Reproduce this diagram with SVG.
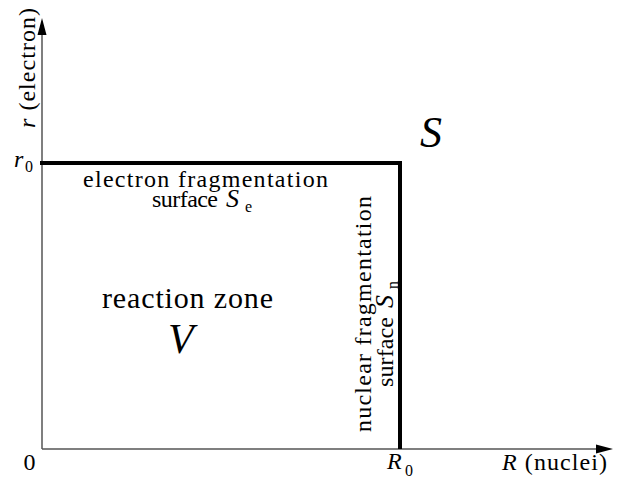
<svg xmlns="http://www.w3.org/2000/svg" width="617" height="481" viewBox="0 0 617 481">
<style>
text{font-family:"Liberation Serif","Times New Roman",serif;fill:#000}
.it{font-style:italic}
.axis{stroke:#555;stroke-width:1.5;fill:none}
.bound{stroke:#000;stroke-width:4;fill:none}
.big{font-size:24px}
.sub{font-size:16px}
</style>
<rect width="617" height="481" fill="#fff"/>
<g id="axes">
<line class="axis" x1="42" y1="449" x2="42" y2="34"/>
<line class="axis" x1="42" y1="449" x2="598" y2="449"/>
<polygon points="42,18 37.5,35 46.5,35" fill="#000"/>
<polygon points="613,449 596,444.5 596,453.5" fill="#000"/>
</g>
<g id="boundary">
<polyline class="bound" points="40,163 400,163 400,449"/>
</g>
<g id="axis-labels">
<text x="29.5" y="470" text-anchor="middle" font-size="24">0</text>
<g transform="translate(35,128) rotate(-90)">
<text class="big" x="0" y="0" textLength="120" lengthAdjust="spacing"><tspan class="it">r</tspan> (electron)</text>
</g>
<text class="it" x="14" y="167" font-size="24">r</text>
<text class="sub" x="25" y="172">0</text>
<text class="it" x="387" y="469" font-size="24">R</text>
<text class="sub" x="405" y="476">0</text>
<text class="big" x="502" y="470" textLength="105" lengthAdjust="spacing"><tspan class="it">R</tspan> (nuclei)</text>
</g>
<g id="label-S">
<text class="it" x="420" y="147" font-size="44">S</text>
</g>
<g id="electron-surface">
<text class="big" x="83" y="187" textLength="245" lengthAdjust="spacing">electron fragmentation</text>
<text class="big" x="152" y="207" textLength="66" lengthAdjust="spacing">surface</text>
<text class="it" x="226" y="207" font-size="26">S</text>
<text class="sub" x="245" y="212">e</text>
</g>
<g id="reaction-zone">
<text x="102" y="308" font-size="30" textLength="171" lengthAdjust="spacing">reaction zone</text>
<text class="it" x="168" y="353" font-size="42">V</text>
</g>
<g id="nuclear-surface" transform="translate(371,432) rotate(-90)">
<text class="big" x="0" y="0" textLength="236" lengthAdjust="spacing">nuclear fragmentation</text>
<g transform="translate(45,22)">
<text class="big" x="0" y="0" textLength="70" lengthAdjust="spacing">surface</text>
<text class="it" x="79" y="0" font-size="26">S</text>
<text class="sub" x="98" y="5">n</text>
</g>
</g>
</svg>
